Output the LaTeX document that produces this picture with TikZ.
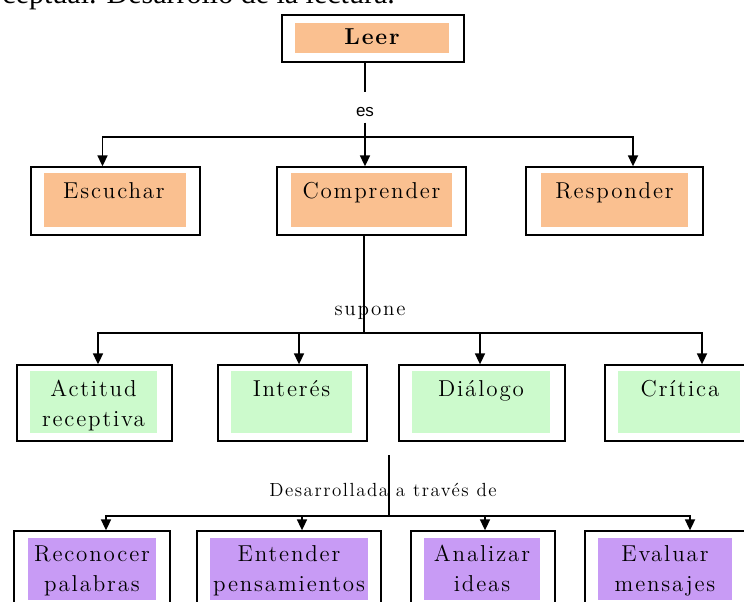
\documentclass[tikz,border=0pt]{standalone}
\usepackage{fontspec}
\usetikzlibrary{arrows.meta}
\newfontfamily\titlefont{Liberation Serif}
\newfontfamily\esfont{Liberation Sans}
\newfontfamily\boxfont{lmroman12-regular}[Extension=.otf, BoldFont=lmroman12-bold, LetterSpace=8]
\definecolor{peach}{RGB}{250,192,144}
\definecolor{mint}{RGB}{204,250,204}
\definecolor{lilac}{RGB}{200,155,245}

\begin{document}
\begin{tikzpicture}[x=1pt, y=-1pt,
  frame/.style={draw, line width=1.3pt, inner sep=0pt},
  pad/.style={fill=#1, inner sep=0pt},
  word/.style={font=\boxfont\fontsize{23}{30}\selectfont, align=center, inner sep=0pt},
  link/.style={line width=1.7pt},
  arrow/.style={link, -{Triangle[length=11pt, width=10pt]}}]
\fill[white] (0,0) rectangle (744,602);
\useasboundingbox (0,0) rectangle (744,602);
\node[font=\titlefont\fontsize{30}{36}\selectfont, anchor=base east, inner sep=0pt] (title) at (395,3.5) {ceptual. Desarrollo de la lectura.};

% Leer
\node[frame, minimum width=182pt, minimum height=47pt] (leer) at (373,38.5) {};
\node[pad=peach, minimum width=154pt, minimum height=30pt] (leerpad) at (372,38) {};
\node[word, font=\boxfont\fontsize{23}{30}\selectfont\bfseries, anchor=base] (leertext) at (372,45) {Leer};
\node[font=\esfont\fontsize{17}{20}\selectfont, inner sep=0pt, text height=24pt, text depth=6pt, anchor=base] (es) at (365,116.5) {es};
\coordinate (fork1) at (365,137);
\draw[link, line width=1.3pt] (es.north |- leer.south) -- (es.north);
\draw[link] (es.south) -- (fork1);

% es
\node[frame, minimum width=169pt, minimum height=68pt] (esc) at (115.5,201) {};
\node[pad=peach, minimum width=142pt, minimum height=54pt] (escpad) at (115,200) {};
\node[word, anchor=base] (esctext) at (114,198) {Escuchar};
\node[frame, minimum width=189pt, minimum height=68pt] (com) at (371.5,201) {};
\node[pad=peach, minimum width=161pt, minimum height=54pt] (compad) at (371.5,200) {};
\node[word, anchor=base] (comtext) at (371.5,198) {Comprender};
\node[frame, minimum width=177pt, minimum height=68pt] (res) at (614.5,201) {};
\node[pad=peach, minimum width=147pt, minimum height=54pt] (respad) at (614.5,200) {};
\node[word, anchor=base] (restext) at (614.5,198) {Responder};
\draw[arrow] (fork1) -| ([xshift=-13pt]esc.north);
\draw[arrow] (fork1) -- (fork1 |- com.north);
\draw[arrow] (fork1) -| ([xshift=18.5pt]res.north);

% supone
\coordinate (fork2) at (364,333);
\draw[link, line width=1.3pt] (com.south -| fork2) -- (fork2);
\node[word, font=\boxfont\fontsize{21}{26}\selectfont] (supone) at (370,313) {supone};
\node[frame, minimum width=155pt, minimum height=76pt] (act) at (94.5,403) {};
\node[pad=mint, minimum width=127pt, minimum height=62pt] (actpad) at (93.5,402) {};
\node[word] (acttext) at (93.5,405) {\strut Actitud\\\strut receptiva};
\node[frame, minimum width=149pt, minimum height=76pt] (int) at (292.5,403) {};
\node[pad=mint, minimum width=121pt, minimum height=62pt] (intpad) at (291.5,402) {};
\node[word, anchor=base] (inttext) at (291.5,396) {Interés};
\node[frame, minimum width=166pt, minimum height=76pt] (dia) at (482,403) {};
\node[pad=mint, minimum width=138pt, minimum height=62pt] (diapad) at (481,402) {};
\node[word, anchor=base] (diatext) at (481,396) {Diálogo};
\node[frame, minimum width=147pt, minimum height=76pt] (cri) at (678.5,403) {};
\node[pad=mint, minimum width=122pt, minimum height=62pt] (cripad) at (679,402) {};
\node[word, anchor=base] (critext) at (680,396) {Crítica};
\draw[arrow] (fork2) -| ([xshift=3.5pt]act.north);
\draw[arrow] (fork2) -| ([xshift=6.5pt]int.north);
\draw[arrow] (fork2) -| ([xshift=-2pt]dia.north);
\draw[arrow] (fork2) -| ([xshift=23.5pt]cri.north);

% Desarrollada a traves de
\coordinate (dstart) at (389,455);
\coordinate (fork3) at (389,516);
\draw[link, line width=1.3pt] (dstart) -- (fork3);
\node[word, font=\boxfont\fontsize{19}{24}\selectfont] (desarrollo) at (383,490) {Desarrollada a través de};
\node[frame, minimum width=156pt, minimum height=77pt] (rec) at (92,569.5) {};
\node[pad=lilac, minimum width=128pt, minimum height=62pt] (recpad) at (92,569) {};
\node[word] (rectext) at (92,570) {\strut Reconocer\\\strut palabras};
\node[frame, minimum width=184pt, minimum height=77pt] (ent) at (289,569.5) {};
\node[pad=lilac, minimum width=158pt, minimum height=62pt] (entpad) at (289,569) {};
\node[word] (enttext) at (289,570) {\strut Entender\\\strut pensamientos};
\node[frame, minimum width=144pt, minimum height=77pt] (ana) at (483,569.5) {};
\node[pad=lilac, minimum width=116pt, minimum height=62pt] (anapad) at (482,569) {};
\node[word] (anatext) at (482,570) {\strut Analizar\\\strut ideas};
\node[frame, minimum width=167pt, minimum height=77pt] (eva) at (668.5,569.5) {};
\node[pad=lilac, minimum width=134pt, minimum height=62pt] (evapad) at (665,569) {};
\node[word] (evatext) at (665,570) {\strut Evaluar\\\strut mensajes};
\draw[arrow] (fork3) -| ([xshift=14pt]rec.north);
\draw[arrow] (fork3) -| ([xshift=13pt]ent.north);
\draw[arrow] (fork3) -| ([xshift=2pt]ana.north);
\draw[arrow] (fork3) -| ([xshift=21.5pt]eva.north);
\end{tikzpicture}
\end{document}
